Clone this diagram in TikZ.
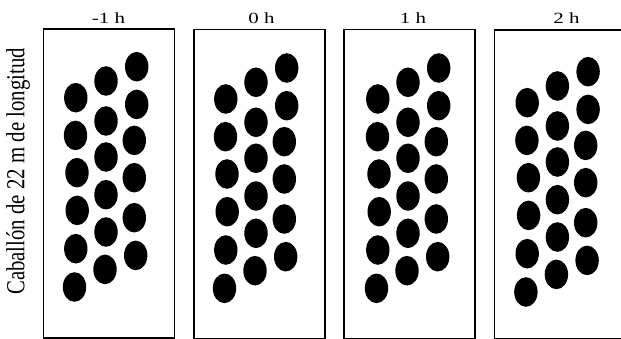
\documentclass[tikz,border=0pt]{standalone}
\usepackage{fontspec}
\setmainfont{Liberation Serif}
\usepackage{graphicx}
\begin{document}
\begin{tikzpicture}[x=1pt,y=-1pt,
  frame/.style={draw, line width=1.4pt, minimum width=131pt, minimum height=308.7pt, anchor=north west, inner sep=0pt},
  seed/.style={fill=black},
  lab/.style={font=\fontsize{15.5}{18}\selectfont, anchor=base, inner sep=0pt}]
\useasboundingbox (0,0) rectangle (621,339);
\clip (0,0) rectangle (621,339);
% frames
\node[frame] (p1) at (42.7,28.5) {};
\node[frame] (p2) at (193.3,29) {};
\node[frame] (p3) at (343.3,29) {};
\node[frame] (p4) at (494,29.3) {};
% labels
\node[lab] (l1) at (108.5,23.3) {\scalebox{1.35}[1]{-1 h}};
\node[lab] (l2) at (261.5,23.3) {\scalebox{1.35}[1]{0 h}};
\node[lab] (l3) at (413,23.3) {\scalebox{1.35}[1]{1 h}};
\node[lab] (l4) at (566.5,23.3) {\scalebox{1.35}[1]{2 h}};
% side text
\node[rotate=90, anchor=base, inner sep=0pt, font=\fontsize{20.8}{24}\selectfont] (side) at (24.3,171.5) {\scalebox{1}[1.25]{Caballón de 22 m de longitud}};
% seeds
\foreach \dx/\dy in {-150/-1.3, 0/0, 152/0, 301.4/3.7} {
  \begin{scope}[shift={(\dx,\dy)}]
  \foreach \px/\py in {225.8/99, 225.5/136.7, 227/174, 227.2/211.7, 225.8/250, 224.5/288.3,
                       256/82.3, 256/122.3, 256/158.3, 256/196, 256/233.3, 255/270.7,
                       286.7/68, 286.7/105.7, 284.3/141.7, 284.3/179, 284.3/219, 285.7/256.7}
    \fill[seed] (\px,\py) ellipse [x radius=11.7pt, y radius=14.8pt];
  \end{scope}
}
\end{tikzpicture}
\end{document}
